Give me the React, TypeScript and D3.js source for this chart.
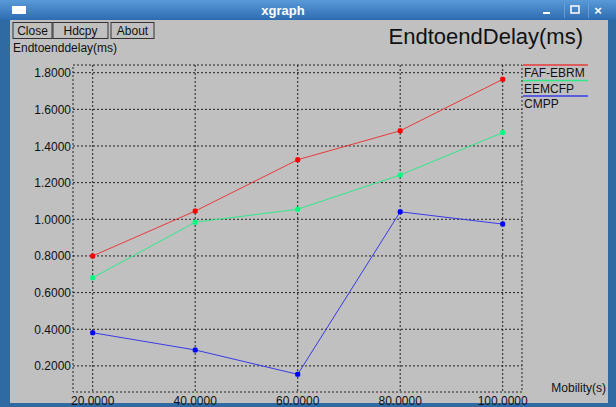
import React from 'react';
import * as d3 from 'd3';

// data
const mobility = [20, 40, 60, 80, 100];
const fafEbrm = [0.8, 1.045, 1.325, 1.483, 1.764];
const eemcfp = [0.681, 0.984, 1.055, 1.242, 1.473];
const cmpp = [0.381, 0.287, 0.154, 1.041, 0.974];
const xTicks = [20, 40, 60, 80, 100];
const yTicks = [0.2, 0.4, 0.6, 0.8, 1.0, 1.2, 1.4, 1.6, 1.8];
const seriesNames = ['FAF-EBRM', 'EEMCFP', 'CMPP'];

const W = 616;
const H = 407;
const box = { left: 73, right: 522, top: 65, bottom: 392 };

const series = [
  { name: seriesNames[0], values: fafEbrm, line: '#e83a3a', dot: '#ff0000' },
  { name: seriesNames[1], values: eemcfp, line: '#2ee88a', dot: '#00ff80' },
  { name: seriesNames[2], values: cmpp, line: '#3a3ae8', dot: '#0000ff' },
];

const font = '"Liberation Sans", "DejaVu Sans", Arial, sans-serif';

export default function App() {
  const x = d3.scaleLinear().domain([20, 100]).range([92.7, 502.7]);
  const y = d3.scaleLinear().domain([0.2, 1.8]).range([365.9, 72.7]);
  const fmt = d3.format('.4f');

  const line = d3.line<number>()
    .x((d, i) => x(mobility[i]))
    .y(d => y(d));

  const grid = '#222';
  const dash = '2,2';

  return (
    <svg width={W} height={H} style={{ position: 'absolute', left: 0, top: 0 }}
      fontFamily={font}>
      <defs>
        <linearGradient id="tb" x1="0" y1="0" x2="0" y2="1">
          <stop offset="0" stopColor="#5a9ad8" />
          <stop offset="1" stopColor="#2d6cb0" />
        </linearGradient>
      </defs>
      {/* window frame */}
      <rect x={0} y={0} width={W} height={H} fill="#2f6aa3" />
      <rect x={0} y={0} width={W} height={20} fill="url(#tb)" />
      <rect x={10} y={20} width={598} height={383} fill="#c0c0c0" />
      <rect x={12} y={6} width={14} height={8} fill="#fff" />
      <text x={283} y={15} textAnchor="middle" fill="#fff" fontWeight="bold" fontSize={13}>xgraph</text>
      <rect x={564} y={3} width={0.8} height={15} fill="#6fa3da" />
      <rect x={588} y={3} width={0.8} height={15} fill="#6fa3da" />
      <rect x={543} y={12} width={7} height={2} fill="#fff" />
      <rect x={571} y={6} width={8} height={7} fill="none" stroke="#fff" strokeWidth={1.5} />
      <text x={598} y={15} textAnchor="middle" fill="#fff" fontWeight="bold" fontSize={13}>×</text>

      {/* buttons */}
      {[['Close', 13, 39], ['Hdcpy', 53, 55], ['About', 111, 43]].map(([t, bx, bw]) => (
        <g key={t as string}>
          <rect x={bx as number} y={22.5} width={bw as number} height={16} fill="#c0c0c0"
            stroke="#333" strokeWidth={1} />
          <text x={(bx as number) + (bw as number) / 2} y={35} textAnchor="middle"
            fontSize={12} fill="#111">{t}</text>
        </g>
      ))}

      <text x={13} y={52} fontSize={12} fill="#111">Endtoenddelay(ms)</text>
      <text x={583} y={44} textAnchor="end" fontSize={22} fill="#111">EndtoendDelay(ms)</text>

      {/* plot box */}
      <rect x={box.left} y={box.top} width={box.right - box.left} height={box.bottom - box.top}
        fill="none" stroke={grid} strokeDasharray={dash} strokeWidth={1} />

      {yTicks.map(t => (
        <g key={t}>
          <line x1={box.left} x2={box.right} y1={y(t)} y2={y(t)}
            stroke={grid} strokeDasharray={dash} strokeWidth={1} />
          <text x={71} y={y(t) + 4.5} textAnchor="end" fontSize={12} fill="#111">{fmt(t)}</text>
        </g>
      ))}
      {xTicks.map(t => (
        <g key={t}>
          <line x1={x(t)} x2={x(t)} y1={box.top} y2={box.bottom}
            stroke={grid} strokeDasharray={dash} strokeWidth={1} />
          <text x={x(t)} y={405} textAnchor="middle" fontSize={12} fill="#111">{fmt(t)}</text>
        </g>
      ))}
      <text x={606} y={392} textAnchor="end" fontSize={12} fill="#111">Mobility(s)</text>

      {/* series */}
      {series.map(s => (
        <g key={s.name}>
          <path d={line(s.values) || ''} fill="none" stroke={s.line} strokeWidth={1} />
          {s.values.map((v, i) => (
            <rect key={i} x={x(mobility[i]) - 2.5} y={y(v) - 2.5} width={5} height={5}
              rx={1.5} fill={s.dot} />
          ))}
        </g>
      ))}

      {/* legend */}
      {series.map((s, i) => (
        <g key={s.name}>
          <line x1={523} x2={588} y1={65 + i * 15.5} y2={65 + i * 15.5} stroke={s.line} strokeWidth={1.5} />
          <text x={524} y={77 + i * 15.5} fontSize={12} fill="#111">{s.name}</text>
        </g>
      ))}
    </svg>
  );
}
